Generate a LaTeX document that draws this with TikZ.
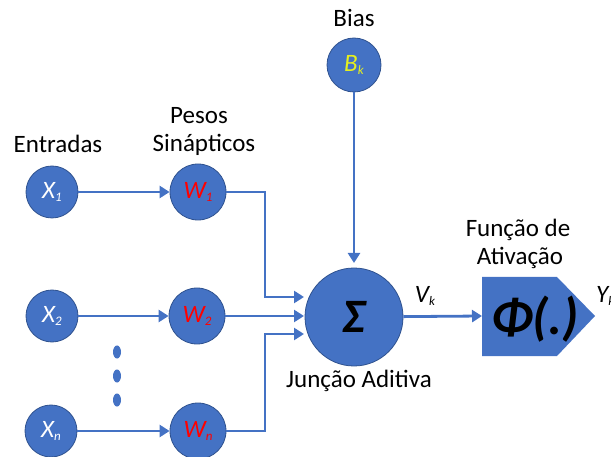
\documentclass[tikz,border=0pt]{standalone}
\usepackage{fontspec}
\setmainfont{Carlito}
\usetikzlibrary{arrows.meta,shapes.geometric}
\definecolor{nblue}{HTML}{4472C4}
\definecolor{nedge}{HTML}{2F528F}
\definecolor{wred}{HTML}{FF0000}
\definecolor{byel}{HTML}{E6F01E}
\newcommand{\sbs}[1]{\raisebox{-3pt}{\fontsize{13}{13}\selectfont #1}}
\begin{document}
\begin{tikzpicture}[x=1pt,y=-1pt,
  neuron/.style={circle, fill=nblue, draw=nedge, line width=0.8pt, inner sep=0pt},
  xin/.style={neuron, minimum size=52pt, text=white, font=\fontsize{25}{27}\selectfont\itshape},
  win/.style={neuron, minimum size=56pt, text=wred, font=\fontsize{25}{27}\selectfont\itshape},
  arr/.style={draw=nblue, line width=2.8pt, -{Triangle[length=10pt,width=12pt]}},
  lbl/.style={font=\fontsize{25}{28}\selectfont, anchor=base, inner sep=0pt, text=black},
  dotstyle/.style={ellipse, fill=nblue, minimum width=8pt, minimum height=13pt, inner sep=0pt}
]
\useasboundingbox (0,0) rectangle (611,457);

% labels
\node[lbl] (lent) at (58,153) {Entradas};
\node[lbl] (lpes) at (199,124) {Pesos};
\node[lbl] (lsin) at (204,152) {Sinápticos};
\node[lbl] (lbias) at (354,27) {Bias};
\node[lbl] (lfun) at (518,237) {Função de};
\node[lbl] (lati) at (520,265) {Ativação};
\node[lbl] (ljun) at (359,387) {Junção Aditiva};

% inputs
\node[xin] (X1) at (52,192) {X\sbs{1}};
\node[xin] (X2) at (52,316) {X\sbs{2}};
\node[xin] (Xn) at (51,431) {X\sbs{n}};
\node[win] (W1) at (198,192) {W\sbs{1}};
\node[win] (W2) at (197,316) {W\sbs{2}};
\node[win] (Wn) at (198,431) {W\sbs{n}};

% dots
\node[dotstyle] (d1) at (117,352) {};
\node[dotstyle] (d2) at (117,376) {};
\node[dotstyle] (d3) at (117,400) {};

% bias
\node[neuron, minimum size=54pt, text=byel, font=\fontsize{25}{27}\selectfont\itshape] (B) at (354,65) {B\sbs{k}};

% sum
\node[neuron, minimum size=98pt, font=\fontsize{48}{50}\selectfont\bfseries\itshape] (S) at (354,317) {Σ};

% activation
\fill[nblue] (482,277) -- (557,277) -- (595,316) -- (557,356) -- (482,356) -- cycle;
\node[font=\fontsize{52}{54}\selectfont\bfseries\itshape, inner sep=0pt] (act) at (535,319) {Φ(.)};
\coordinate (actin) at (482,316);

% output labels
\node[font=\fontsize{25}{27}\selectfont\itshape, anchor=base, inner sep=0pt] (V) at (425,303) {V\sbs{k}};
\node[font=\fontsize{25}{27}\selectfont\itshape, anchor=base west, inner sep=0pt] (Y) at (596,303) {Y\sbs{k}};

% connection points
\coordinate (bend) at (265,0);
\coordinate (in1) at (304,297);
\coordinate (in2) at (304,316);
\coordinate (in3) at (304,334);
\coordinate (bin) at (354,263);

% connectors
\draw[arr] (X1) -- (W1);
\draw[arr] (X2) -- (W2);
\draw[arr] (Xn) -- (Wn);
\draw[arr] (W1.east) -- (W1.east -| bend) |- (in1);
\draw[arr] (W2) -- (in2);
\draw[arr] (Wn.east) -- (Wn.east -| bend) |- (in3);
\draw[arr] (B) -- (bin);
\draw[arr] (S) -- (actin);
\end{tikzpicture}
\end{document}
